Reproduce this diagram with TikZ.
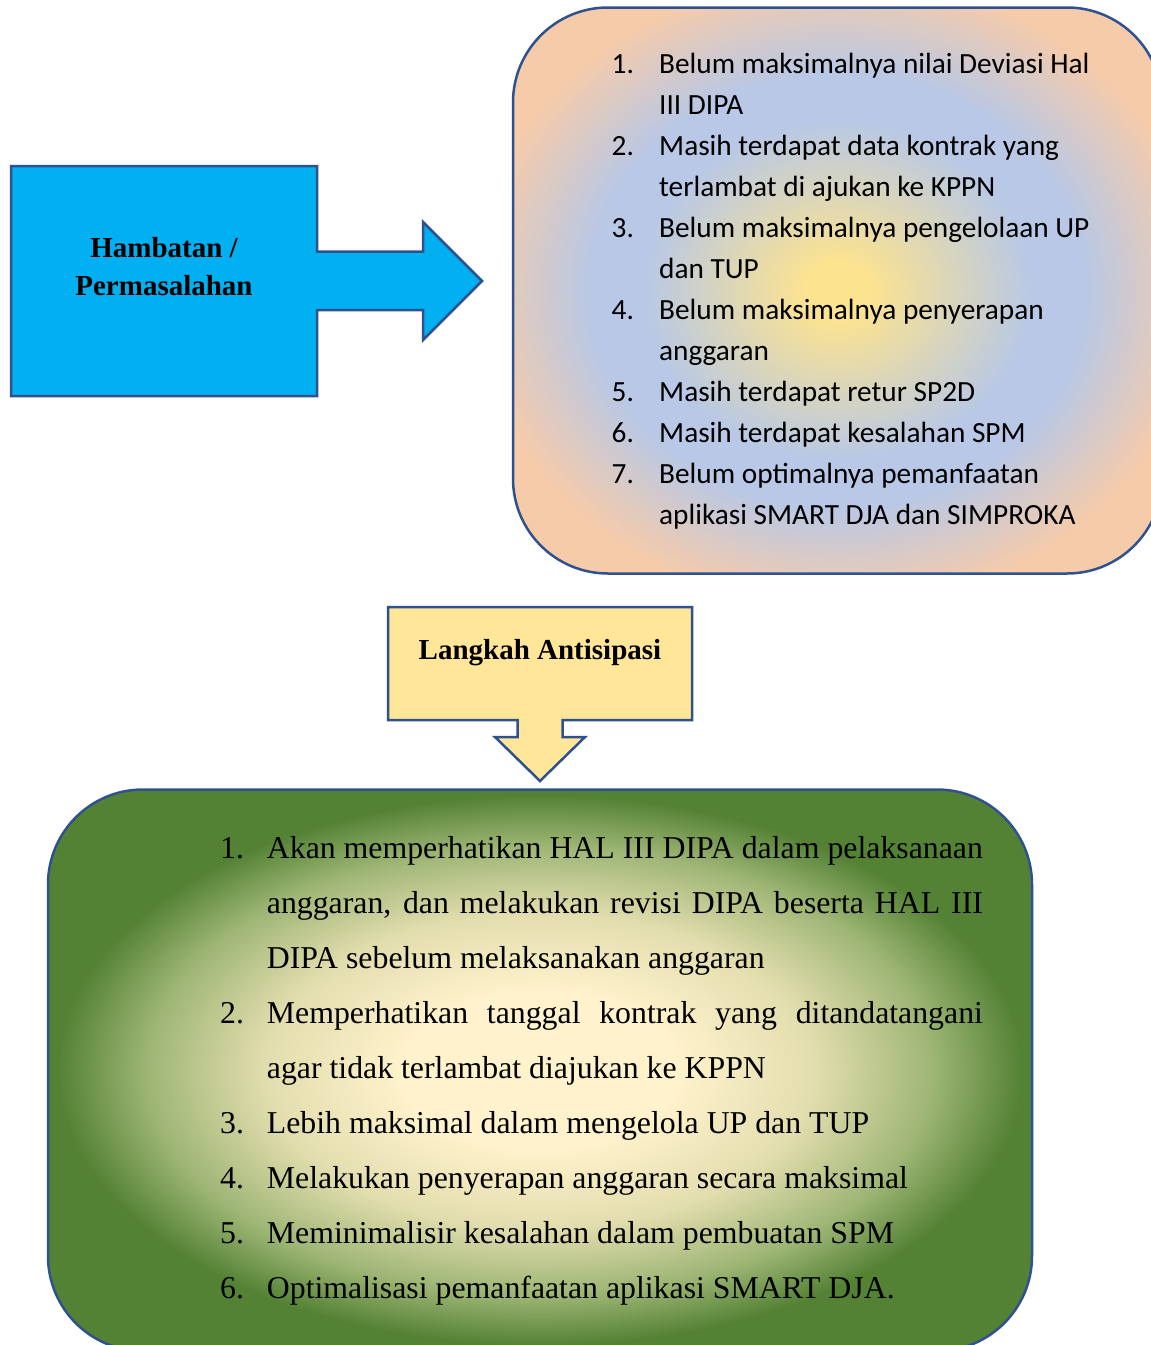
\documentclass[tikz,border=0pt]{standalone}
\usepackage{fontspec}
\setmainfont{Liberation Serif}
\newfontfamily\calibrifont{Carlito}
\definecolor{bordc}{HTML}{2F528F}
\definecolor{bluefill}{HTML}{00B0F0}
\definecolor{yelfill}{HTML}{FFE699}
\definecolor{pY}{HTML}{FCE390}
\definecolor{pB}{HTML}{B8C8E6}
\definecolor{pP}{HTML}{F6CBAA}
\definecolor{gC}{HTML}{FFF2CC}
\definecolor{gL}{HTML}{E2DDAE}
\definecolor{gM}{HTML}{9DB574}
\definecolor{gD}{HTML}{548235}
\pgfdeclareradialshading{peachsh}{\pgfpointorigin}{color(0bp)=(pY); color(2.5bp)=(pY); color(15bp)=(pB); color(19bp)=(pB); color(28bp)=(pP); color(50bp)=(pP)}
\pgfdeclareradialshading{greensh}{\pgfpointorigin}{color(0bp)=(gC); color(7bp)=(gC); color(14bp)=(gL); color(20bp)=(gM); color(24.5bp)=(gD); color(50bp)=(gD)}
\tikzset{
  boxborder/.style={draw=bordc, line width=2.5pt, line join=miter},
  boldlabel/.style={font=\bfseries\fontsize{29}{34}\selectfont, inner sep=0pt, anchor=base},
  plist/.style={font=\calibrifont\fontsize{29.3}{34}\selectfont, inner sep=0pt, anchor=base west},
  glist/.style={font=\fontsize{31.8}{38}\selectfont, inner sep=0pt, anchor=base west},
}
\begin{document}
\begin{tikzpicture}[x=1pt,y=-1pt]
\useasboundingbox (0,0) rectangle (1151,1345);
\fill[white] (0,0) rectangle (1151,1345);
\clip (0,0) rectangle (1151,1345);

% Blue right-arrow callout
\draw[boxborder, fill=bluefill] (11,166) -- (317,166) -- (317,251.5) -- (423,251.5) -- (423,222)
  -- (482,281) coordinate (blueTip) -- (423,340) -- (423,310) -- (317,310) -- (317,396) -- (11,396) -- cycle;
\node[boldlabel] (hamb1) at (164,257.3) {Hambatan /};
\node[boldlabel] (hamb2) at (164,295.7) {Permasalahan};

% Peach rounded box (right edge runs past the picture)
\draw[boxborder, shading=peachsh, rounded corners=95pt] (513,7.5) rectangle (1162,573.5);
\foreach \n/\t [count=\i from 0] in {%
  1./{Belum maksimalnya nilai Deviasi Hal},
  /{III DIPA},
  2./{Masih terdapat data kontrak yang},
  /{terlambat di ajukan ke KPPN},
  3./{Belum maksimalnya pengelolaan UP},
  /{dan TUP},
  4./{Belum maksimalnya penyerapan},
  /{anggaran},
  5./{Masih terdapat retur SP2D},
  6./{Masih terdapat kesalahan SPM},
  7./{Belum optimalnya pemanfaatan},
  /{aplikasi SMART DJA dan SIMPROKA}}{
  \node[plist] (pn\i) at (611.5,{73.3+41.06*\i}) {\n};
  \node[plist] (pt\i) at (659,{73.3+41.06*\i}) {\t};
}

% Yellow down-arrow callout
\draw[boxborder, fill=yelfill] (388,607) -- (692,607) -- (692,720) -- (562.5,720) -- (562.5,737)
  -- (585,737) -- (540,781) coordinate (yelTip) -- (495,737) -- (517.5,737) -- (517.5,720) -- (388,720) -- cycle;
\node[boldlabel] (langkah) at (540,659) {Langkah Antisipasi};

% Green rounded box (bottom runs past the picture)
\draw[boxborder, shading=greensh, rounded corners=95pt] (48,789.5) rectangle (1032,1351);
\node[glist] (gn0) at (220,858) {1.};
\node[glist] (gt0) at (266.7,858) {\makebox[716pt][s]{Akan memperhatikan HAL III DIPA dalam pelaksanaan}};
\node[glist] (gt1) at (266.7,913) {\makebox[716pt][s]{anggaran, dan melakukan revisi DIPA beserta HAL III}};
\node[glist] (gt2) at (266.7,968) {DIPA sebelum melaksanakan anggaran};
\node[glist] (gn3) at (220,1023) {2.};
\node[glist] (gt3) at (266.7,1023) {\makebox[716pt][s]{Memperhatikan tanggal kontrak yang ditandatangani}};
\node[glist] (gt4) at (266.7,1078) {agar tidak terlambat diajukan ke KPPN};
\node[glist] (gn5) at (220,1133) {3.};
\node[glist] (gt5) at (266.7,1133) {Lebih maksimal dalam mengelola UP dan TUP};
\node[glist] (gn6) at (220,1188) {4.};
\node[glist] (gt6) at (266.7,1188) {Melakukan penyerapan anggaran secara maksimal};
\node[glist] (gn7) at (220,1243) {5.};
\node[glist] (gt7) at (266.7,1243) {Meminimalisir kesalahan dalam pembuatan SPM};
\node[glist] (gn8) at (220,1298) {6.};
\node[glist] (gt8) at (266.7,1298) {Optimalisasi pemanfaatan aplikasi SMART DJA.};
\end{tikzpicture}
\end{document}
